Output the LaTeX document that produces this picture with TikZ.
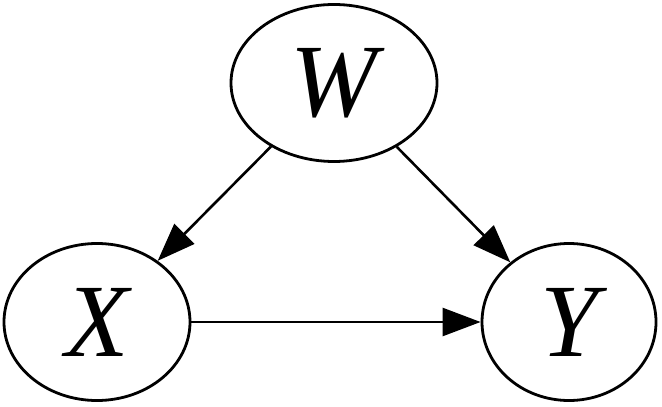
\documentclass[tikz,border=0pt]{standalone}
\usepackage{fontspec}
\setmainfont{Liberation Serif}
\usetikzlibrary{shapes.geometric,arrows.meta}

\begin{document}
\begin{tikzpicture}[x=0.5pt,y=-0.5pt,
  var/.style={draw, ellipse, line width=1.4pt, inner sep=0pt, minimum height=78.5pt, font=\fontsize{52}{56}\selectfont\itshape},
  edge/.style={line width=1.3pt, -{Triangle[length=19pt,width=14pt]}}]
\useasboundingbox (0,0) rectangle (662,406);
% variables:
\node[var, minimum width=103pt] (W) at (334,83) {W};
\node[var, minimum width=93pt] (X) at (97,322) {X};
\node[var, minimum width=87pt] (Y) at (569,322) {Y};
% causal arrows:
\draw[edge] (W) -- (X);
\draw[edge] (W) -- (Y);
\draw[edge] (X) -- (Y);
\end{tikzpicture}
\end{document}
